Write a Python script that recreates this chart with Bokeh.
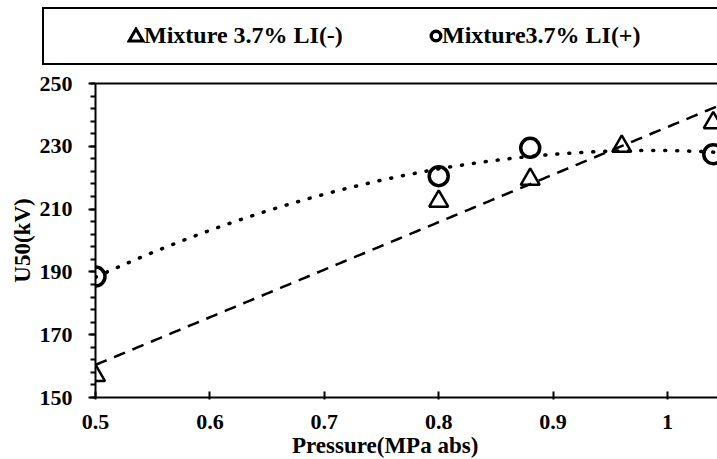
import numpy as np
from bokeh.plotting import figure
from bokeh.layouts import column
from bokeh.models import Range1d, FixedTicker, LinearAxis, Div
from bokeh.embed import file_html
from bokeh.resources import INLINE

# ---- data ----
series_labels = ["Mixture 3.7% LI(-)", "Mixture3.7% LI(+)"]
pressure_neg = [0.5, 0.8, 0.88, 0.96, 1.04]
u50_neg = [157.0, 212.5, 219.5, 230.0, 237.5]
pressure_pos = [0.5, 0.8, 0.88, 1.04]
u50_pos = [188.5, 220.5, 229.5, 227.5]
x_ticks = [0.5, 0.6, 0.7, 0.8, 0.9, 1.0]
x_tick_labels = ["0.5", "0.6", "0.7", "0.8", "0.9", "1"]
y_ticks = [150, 170, 190, 210, 230, 250]
x_title = "Pressure(MPa abs)"
y_title = "U50(kV)"

FONT = "'Liberation Serif', 'DejaVu Serif', serif"
CSS_FONT = "font-family:'Liberation Serif','DejaVu Serif',serif;"

# Excel-style trendlines: linear for LI(-), 2nd-order polynomial for LI(+)
fit_neg = np.poly1d(np.polyfit(pressure_neg, u50_neg, 1))
fit_pos = np.poly1d(np.polyfit(pressure_pos, u50_pos, 2))
xs = np.linspace(0.5, 1.06, 200)

# ---- legend strip (HTML) ----
tri_svg = ('<svg width="18" height="16" style="position:absolute;left:127px;top:27px">'
           '<polygon points="9,2 16,14 2,14" fill="none" stroke="black" stroke-width="3"/></svg>')
circ_svg = ('<svg width="16" height="16" style="position:absolute;left:428px;top:28px">'
            '<circle cx="8" cy="8" r="4.8" fill="none" stroke="black" stroke-width="3.4"/></svg>')
lab_style = ("position:absolute;top:17px;font-size:24px;font-weight:bold;color:black;"
             "line-height:36px;white-space:nowrap;" + CSS_FONT)
legend_html = (
    '<div style="position:relative;width:717px;height:70px;overflow:hidden;background:white;">'
    '<div style="position:absolute;left:42px;top:7px;width:740px;height:54px;'
    'border:2px solid black;box-sizing:content-box;"></div>'
    + tri_svg +
    f'<span style="{lab_style}left:144px;">{series_labels[0]}</span>'
    + circ_svg +
    f'<span style="{lab_style}left:442px;">{series_labels[1]}</span>'
    '</div>'
)
leg = Div(text=legend_html, width=717, height=70, margin=0)

# ---- x-axis title strip (HTML), slightly left of the frame centre as in the reference ----
title_html = (
    '<div style="position:relative;width:717px;height:20px;overflow:visible;">'
    f'<span style="position:absolute;left:292px;top:-6px;font-size:23px;font-weight:bold;'
    f'color:black;white-space:nowrap;line-height:normal;{CSS_FONT}">{x_title}</span>'
    '</div>'
)
xtitle = Div(text=title_html, width=717, height=20, margin=0)

# ---- main chart ----
p = figure(width=717, height=369, x_range=Range1d(0.5, 1.0437), y_range=Range1d(150, 250),
           output_backend="svg", toolbar_location=None,
           min_border_left=95, min_border_right=0, min_border_top=13, min_border_bottom=42,
           outline_line_color=None)
p.grid.visible = False

p.line(xs, fit_neg(xs), line_color="black", line_width=2.5, line_dash="12 8")
p.line(xs, fit_pos(xs), line_color="black", line_width=3.5, line_dash="1 11",
       line_cap="round")
p.scatter(pressure_neg, u50_neg, marker="triangle", size=19, fill_color=None,
          line_color="black", line_width=2.5)
p.scatter(pressure_pos, u50_pos, marker="circle", size=19, fill_color=None,
          line_color="black", line_width=3.5)

xa = p.below[0]
ya = p.left[0]

top_axis = LinearAxis(ticker=FixedTicker(ticks=[]), major_label_text_font_size="0px",
                      major_tick_line_color=None, minor_tick_line_color=None,
                      axis_line_width=2, axis_line_color="black", major_label_standoff=0)
p.add_layout(top_axis, "above")

xa.ticker = FixedTicker(ticks=x_ticks)
xa.major_label_overrides = {t: l for t, l in zip(x_ticks, x_tick_labels)}
xa.minor_tick_line_color = None
xa.major_tick_in = 6
xa.major_tick_out = 2
xa.major_label_standoff = 15

y_minor = [v for v in range(150, 251, 4)]
ya.ticker = FixedTicker(ticks=y_ticks, minor_ticks=y_minor)
ya.major_tick_in = 0
ya.major_tick_out = 7
ya.minor_tick_in = 0
ya.minor_tick_out = 5
ya.major_label_standoff = 16

for ax in (xa, ya):
    ax.axis_line_width = 2
    ax.axis_line_color = "black"
    ax.major_tick_line_width = 2
    ax.minor_tick_line_width = 2
    ax.major_label_text_font = FONT
    ax.major_label_text_font_style = "bold"
    ax.major_label_text_font_size = "22px"
    ax.major_label_text_color = "black"
    ax.axis_label_text_font = FONT
    ax.axis_label_text_font_style = "bold"
    ax.axis_label_text_font_size = "23px"
    ax.axis_label_text_color = "black"

ya.axis_label = y_title
ya.axis_label_standoff = 2

layout = column(leg, p, xtitle, spacing=0)
open("out.html", "w").write(file_html(layout, INLINE))
